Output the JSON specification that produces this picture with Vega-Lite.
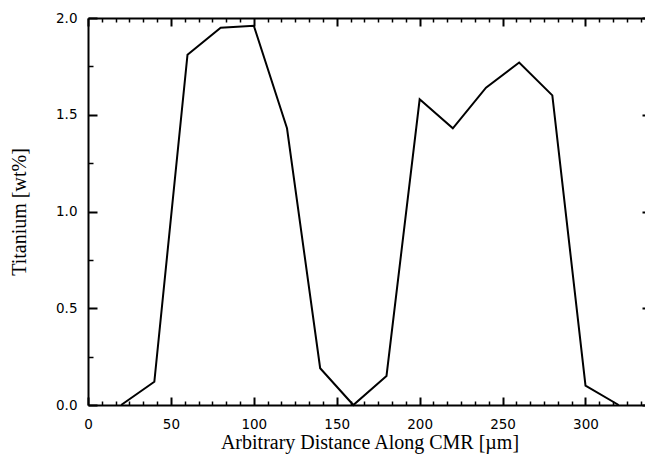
{
  "$schema": "https://vega.github.io/schema/vega-lite/v6.json",
  "width": 563,
  "height": 387,
  "autosize": "none",
  "padding": {"left": 88, "top": 18, "right": 0, "bottom": 55},
  "background": "white",
  "data": {"values": [
    {"d": 20, "ti": 0.0},
    {"d": 40, "ti": 0.12},
    {"d": 60, "ti": 1.81},
    {"d": 80, "ti": 1.95},
    {"d": 100, "ti": 1.96},
    {"d": 120, "ti": 1.43},
    {"d": 140, "ti": 0.19},
    {"d": 160, "ti": 0.0},
    {"d": 180, "ti": 0.15},
    {"d": 200, "ti": 1.58},
    {"d": 220, "ti": 1.43},
    {"d": 240, "ti": 1.64},
    {"d": 260, "ti": 1.77},
    {"d": 280, "ti": 1.60},
    {"d": 300, "ti": 0.10},
    {"d": 320, "ti": 0.0}
  ]},
  "config": {
    "view": {"stroke": null},
    "axis": {
      "grid": false,
      "domainColor": "black",
      "tickColor": "black",
      "labelColor": "black",
      "titleColor": "black",
      "domainWidth": 2,
      "labelFont": "DejaVu Sans",
      "labelFontSize": 13.5,
      "titleFont": "Liberation Serif",
      "titleFontSize": 20,
      "titleFontWeight": "normal"
    }
  },
  "layer": [
    {
      "mark": {"type": "line", "color": "black", "strokeWidth": 2},
      "encoding": {
        "x": {"field": "d", "type": "quantitative",
          "scale": {"domain": [0, 339.5], "nice": false, "zero": false},
          "axis": {"orient": "bottom",
            "values": [0, 50, 100, 150, 200, 250, 300],
            "tickSize": -8, "tickWidth": 2,
            "labelPadding": 20, "labelFlush": false,
            "title": "Arbitrary Distance Along CMR [µm]", "titlePadding": 2}},
        "y": {"field": "ti", "type": "quantitative",
          "scale": {"domain": [0, 2], "nice": false},
          "axis": {"orient": "left",
            "values": [0, 0.25, 0.5, 0.75, 1.0, 1.25, 1.5, 1.75, 2.0],
            "tickSize": {"condition": {"test": "round(datum.value * 100) % 50 === 0", "value": -9}, "value": -5},
            "tickWidth": {"condition": {"test": "round(datum.value * 100) % 50 === 0", "value": 2}, "value": 1.5},
            "labelExpr": "round(datum.value * 100) % 50 === 0 ? format(datum.value, '.1f') : ''",
            "labelPadding": 20, "labelFlush": false,
            "title": "Titanium [wt%]", "titlePadding": 26}}
      }
    },
    {
      "mark": {"type": "line", "strokeOpacity": 0},
      "encoding": {
        "x": {"field": "d", "type": "quantitative",
          "axis": {"orient": "top",
            "values": [0, 8.333, 16.667, 25, 33.333, 41.667, 50, 58.333, 66.667, 75, 83.333, 91.667, 100, 108.333, 116.667, 125, 133.333, 141.667, 150, 158.333, 166.667, 175, 183.333, 191.667, 200, 208.333, 216.667, 225, 233.333, 241.667, 250, 258.333, 266.667, 275, 283.333, 291.667, 300, 308.333, 316.667, 325, 333.333],
            "tickSize": {"condition": {"test": "round(datum.value) % 50 === 0", "value": -8}, "value": -4},
            "tickWidth": {"condition": {"test": "round(datum.value) % 50 === 0", "value": 2}, "value": 1.5},
            "labels": false, "title": null}},
        "y": {"field": "ti", "type": "quantitative",
          "axis": {"orient": "right",
            "values": [0, 0.25, 0.5, 0.75, 1.0, 1.25, 1.5, 1.75, 2.0],
            "tickSize": {"condition": {"test": "round(datum.value * 100) % 50 === 0", "value": -9}, "value": -5},
            "tickWidth": {"condition": {"test": "round(datum.value * 100) % 50 === 0", "value": 2}, "value": 1.5},
            "labels": false, "title": null}}
      }
    },
    {
      "mark": {"type": "line", "strokeOpacity": 0},
      "encoding": {
        "x": {"field": "d", "type": "quantitative",
          "axis": {"orient": "bottom",
            "values": [8.333, 16.667, 25, 33.333, 41.667, 58.333, 66.667, 75, 83.333, 91.667, 108.333, 116.667, 125, 133.333, 141.667, 158.333, 166.667, 175, 183.333, 191.667, 208.333, 216.667, 225, 233.333, 241.667, 258.333, 266.667, 275, 283.333, 291.667, 308.333, 316.667, 325, 333.333],
            "tickSize": -4, "tickWidth": 1.5,
            "labels": false, "domain": false, "title": null}},
        "y": {"field": "ti", "type": "quantitative", "axis": null}
      }
    }
  ],
  "resolve": {"axis": {"x": "independent", "y": "independent"}}
}
